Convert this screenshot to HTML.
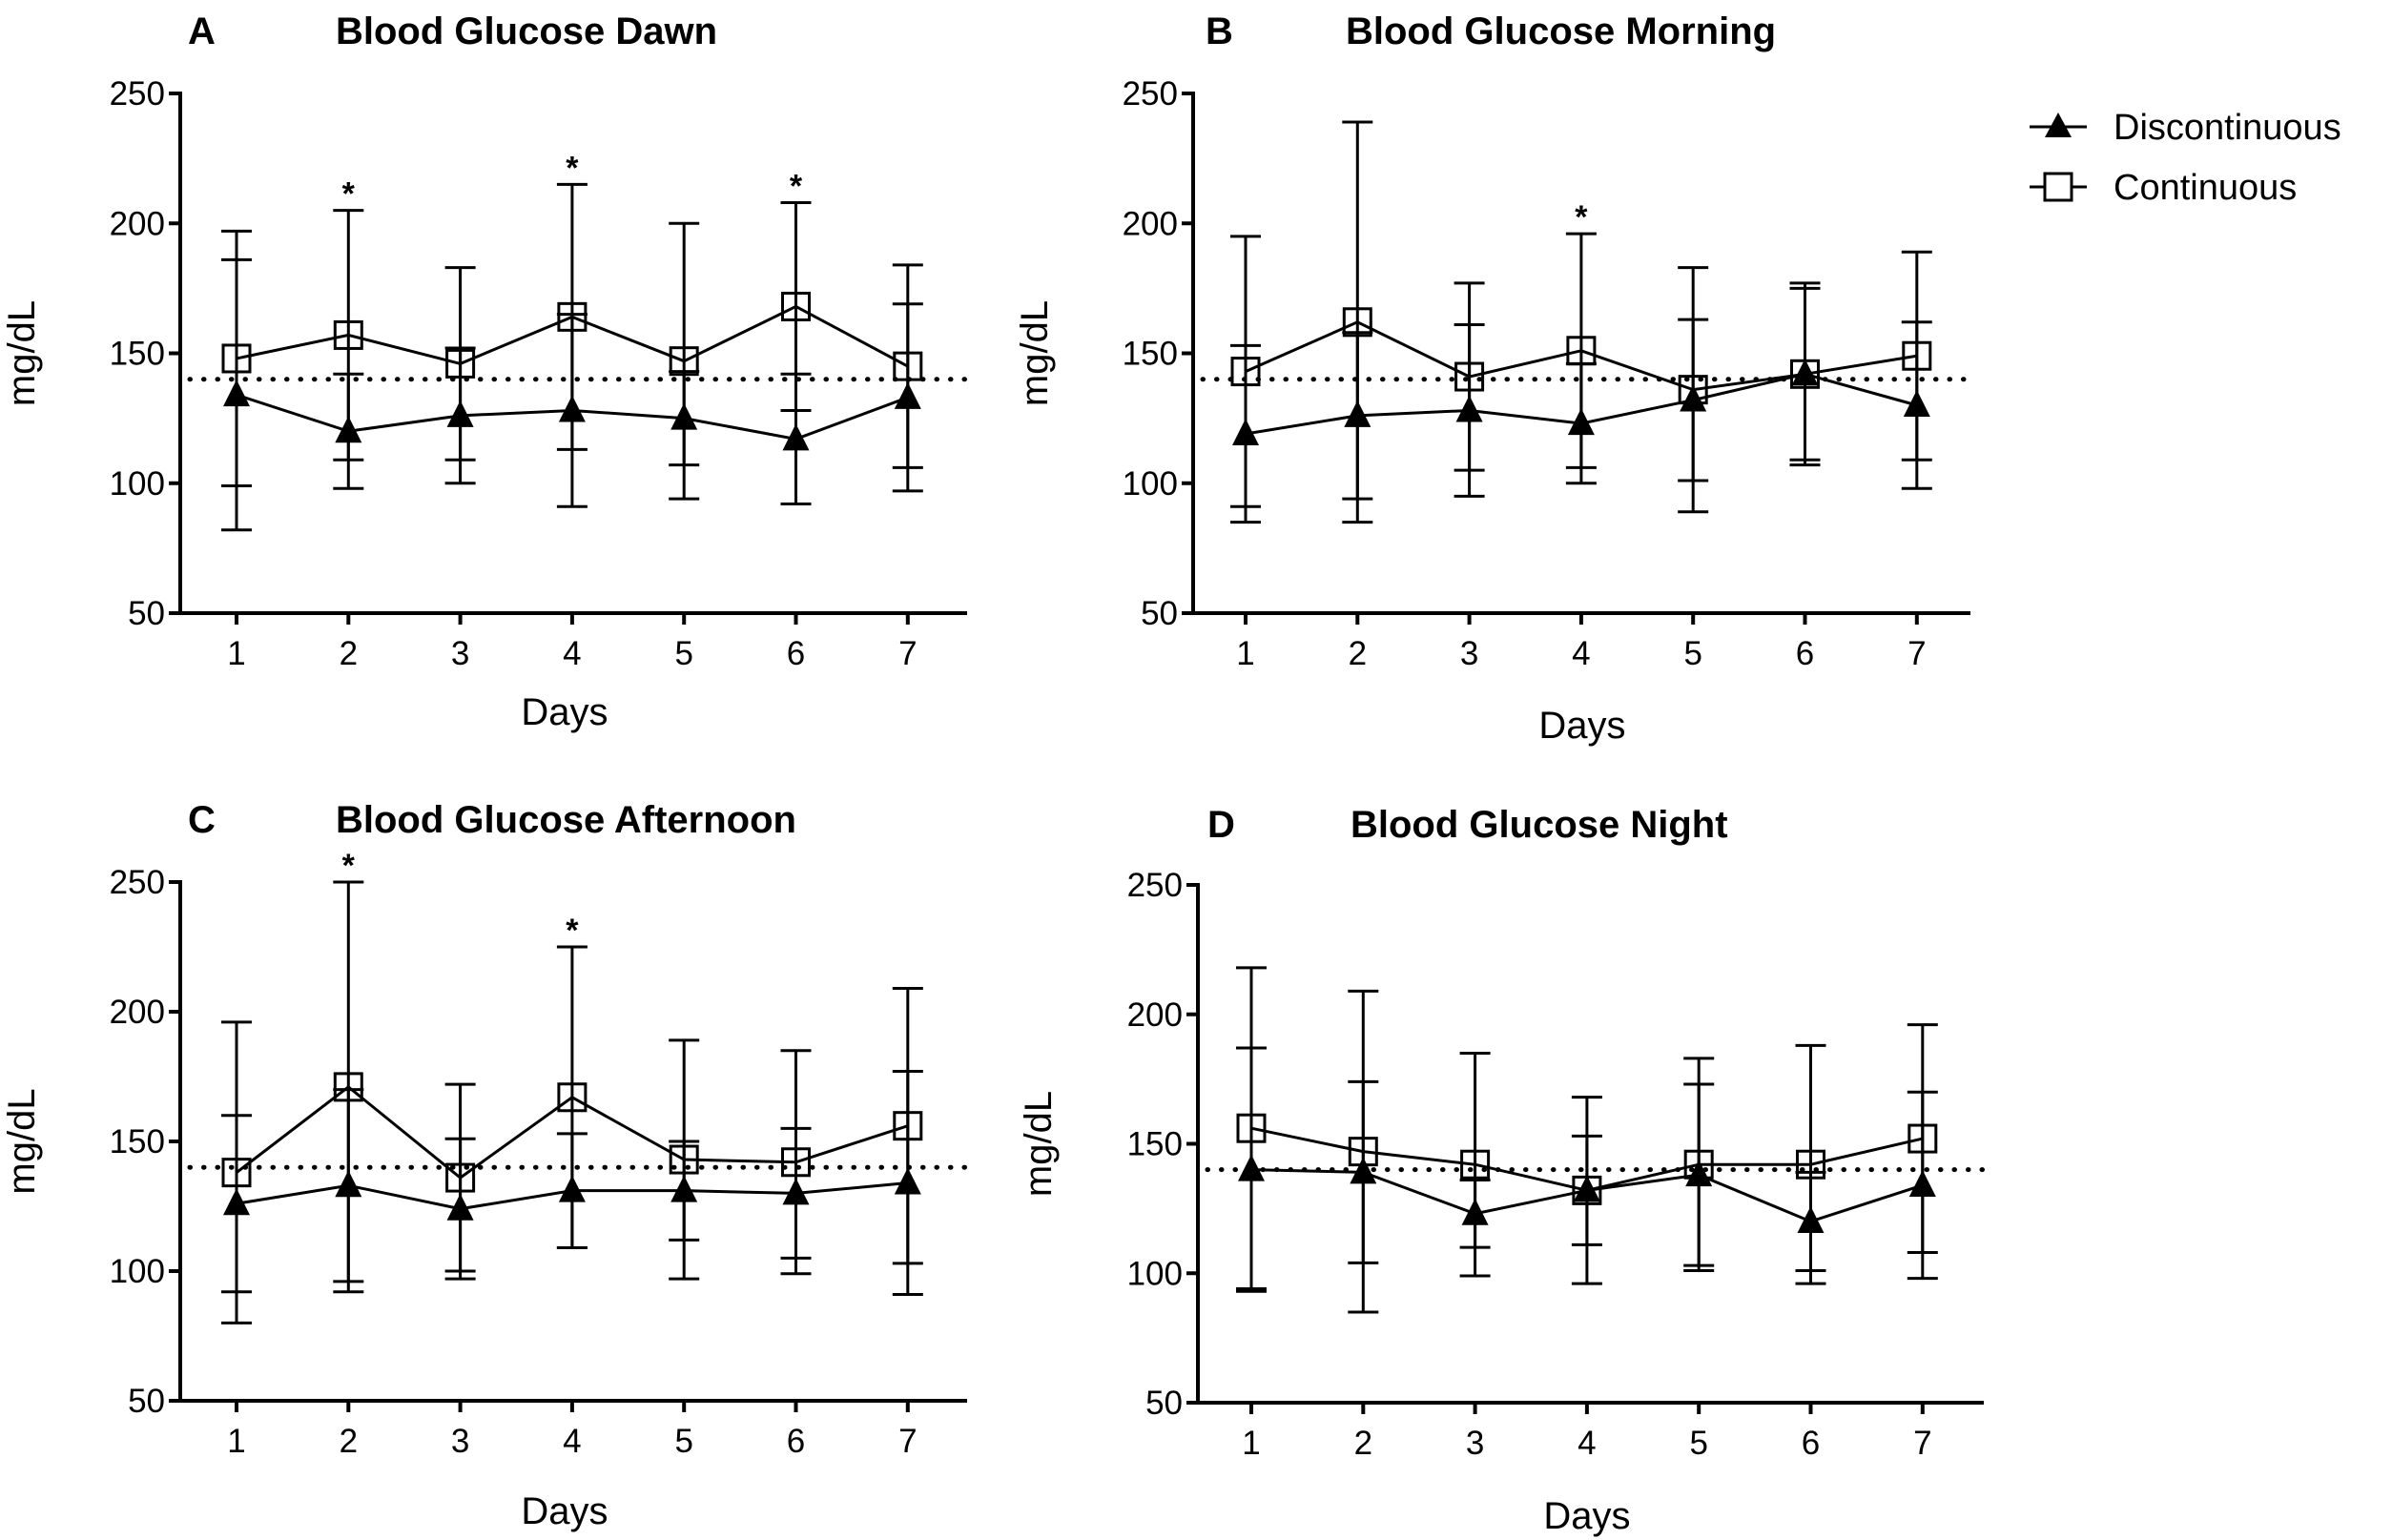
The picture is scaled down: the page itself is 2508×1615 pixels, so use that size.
<!DOCTYPE html>
<html><head><meta charset="utf-8"><style>
html,body{margin:0;padding:0;background:#fff;}
svg{display:block;font-family:"Liberation Sans",sans-serif;}
</style></head><body>
<svg id="fig" width="2508" height="1615" viewBox="0 0 2508 1615" xmlns="http://www.w3.org/2000/svg">
<g>
<line x1="2128" y1="133" x2="2188" y2="133" stroke="#000" stroke-width="3"/>
<polygon points="2158,118 2172,144 2144,144" fill="#000"/>
<text x="2216" y="146" font-size="38">Discontinuous</text>
<line x1="2128" y1="196" x2="2188" y2="196" stroke="#000" stroke-width="3"/>
<rect x="2144" y="182" width="28" height="28" fill="#fff" stroke="#000" stroke-width="3"/>
<text x="2216" y="209" font-size="38">Continuous</text>
</g>
</svg>
<script>
const days = [1,2,3,4,5,6,7];
const yTicks = [50,100,150,200,250];
const refLine = 140;
// Panel A
const contMeanA = [148,157,146,164,147,168,145];
const contSdA   = [49,48,37,51,53,40,39];
const discMeanA = [134,120,126,128,125,117,133];
const discSdA   = [52,22,26,37,18,25,36];
const starsA    = [2,4,6];
// Panel B
const contMeanB = [143,162,141,151,136,142,149];
const contSdB   = [52,77,36,45,47,35,40];
const discMeanB = [119,126,128,123,132,142,130];
const discSdB   = [34,32,33,23,31,33,32];
const starsB    = [4];
// Panel C
const contMeanC = [138,171,136,167,143,142,156];
const contSdC   = [58,79,36,58,46,43,53];
const discMeanC = [126,133,124,131,131,130,134];
const discSdC   = [34,37,27,22,19,25,43];
const starsC    = [2,4];
// Panel D
const contMeanD = [156,147,142,132,142,142,152];
const contSdD   = [62,62,43,36,41,46,44];
const discMeanD = [140,139,123,132,138,120,134];
const discSdD   = [47,35,13,21,35,19,36];
const starsD    = [];

const NS="http://www.w3.org/2000/svg";
const svg=document.getElementById('fig');
function mk(tag,attrs,parent){const e=document.createElementNS(NS,tag);for(const k in attrs)e.setAttribute(k,attrs[k]);(parent||svg).appendChild(e);return e;}

function panel(letter,title,ax,yTop,yBot,day1,xEnd,lx,tx,ty,ylabX,daysX,daysY,cm,cs,dm,ds,stars){
  const g=mk('g',{});
  
  
  const dx=117.3;
  const X=d=>day1+(d-1)*dx;
  const Y=v=>yBot-(v-50)/200*(yBot-yTop);
  let t=mk('text',{x:lx,y:ty,'font-size':40,'font-weight':'bold'},g);t.textContent=letter;
  
  t=mk('text',{x:tx,y:ty,'font-size':40,'font-weight':'bold'},g);t.textContent=title;
  
  let a=mk('line',{x1:ax,y1:yTop-2,x2:ax,y2:yBot,stroke:'#000','stroke-width':4},g);
  
  a=mk('line',{x1:ax-12,y1:yBot,x2:xEnd,y2:yBot,stroke:'#000','stroke-width':4},g);
  
  yTicks.forEach(v=>{
    mk('line',{x1:ax-12,y1:Y(v),x2:ax,y2:Y(v),stroke:'#000','stroke-width':4},g);
    const l=mk('text',{x:ax-16,y:Y(v)+12,'font-size':35,'text-anchor':'end'},g);l.textContent=v;
    
  });
  days.forEach(d=>{
    mk('line',{x1:X(d),y1:yBot,x2:X(d),y2:yBot+12,stroke:'#000','stroke-width':4},g);
    const l=mk('text',{x:X(d),y:yBot+54,'font-size':35,'text-anchor':'middle'},g);l.textContent=d;
    
  });
  t=mk('text',{x:daysX,y:daysY,'font-size':40,'text-anchor':'middle'},g);t.textContent='Days';
  
  const yc=(yTop+yBot)/2;
  t=mk('text',{x:ylabX,y:yc,'font-size':40,'text-anchor':'middle',transform:`rotate(-90 ${ylabX} ${yc})`},g);t.textContent='mg/dL';
  
  const r=mk('line',{x1:ax+10,y1:Y(refLine),x2:xEnd,y2:Y(refLine),stroke:'#000','stroke-width':5,'stroke-linecap':'round','stroke-dasharray':'0.5 14'},g);
  
  function bars(m,s,name){
    days.forEach((d,i)=>{
      const x=X(d),hi=Y(m[i]+s[i]),lo=Y(m[i]-s[i]);
      const e=mk('path',{d:`M${x},${hi}V${lo}M${x-16},${hi}H${x+16}M${x-16},${lo}H${x+16}`,stroke:'#000','stroke-width':3,fill:'none'},g);
      
    });
  }
  bars(cm,cs,'continuous');bars(dm,ds,'discontinuous');
  const cl=mk('polyline',{points:days.map((d,i)=>X(d)+','+Y(cm[i])).join(' '),fill:'none',stroke:'#000','stroke-width':3},g);
  
  const dl=mk('polyline',{points:days.map((d,i)=>X(d)+','+Y(dm[i])).join(' '),fill:'none',stroke:'#000','stroke-width':3},g);
  
  days.forEach((d,i)=>{
    const x=X(d),y=Y(dm[i]);
    const p=mk('polygon',{points:`${x},${y-16} ${x+14},${y+12} ${x-14},${y+12}`,fill:'#000'},g);
    
  });
  days.forEach((d,i)=>{
    const x=X(d),y=Y(cm[i]);
    const p=mk('rect',{x:x-14,y:y-14,width:28,height:28,fill:'none',stroke:'#000','stroke-width':3},g);
    
  });
  stars.forEach(d=>{
    const i=d-1;
    const s=mk('text',{x:X(d),y:Y(cm[i]+cs[i])-6,'font-size':34,'font-weight':'bold','text-anchor':'middle'},g);s.textContent='*';
    
  });
}
panel('A','Blood Glucose Dawn',189,98,643,248,1014,197,352,46,36,592,760,contMeanA,contSdA,discMeanA,discSdA,starsA);
panel('B','Blood Glucose Morning',1251,98,643,1306,2066,1264,1411,46,1098,1659,774,contMeanB,contSdB,discMeanB,discSdB,starsB);
panel('C','Blood Glucose Afternoon',189,925,1469,248,1014,197,352,873,36,592,1598,contMeanC,contSdC,discMeanC,discSdC,starsC);
panel('D','Blood Glucose Night',1256,928,1471,1312,2080,1266,1416,878,1102,1664,1603,contMeanD,contSdD,discMeanD,discSdD,starsD);
</script>
</body></html>
